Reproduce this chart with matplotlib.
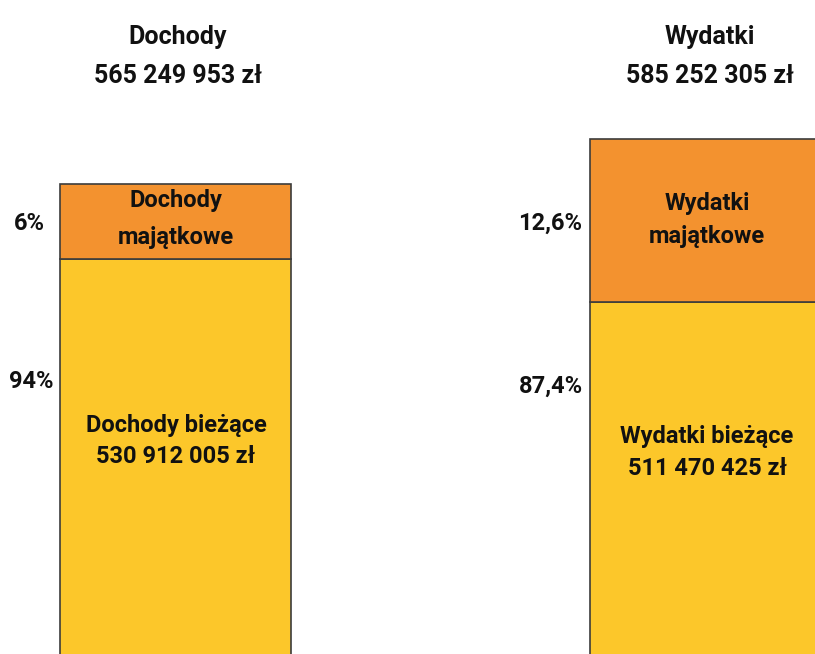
import matplotlib.pyplot as plt

# dane (zł)
groups = ["Dochody", "Wydatki"]
total_lbl = ["565 249 953 zł", "585 252 305 zł"]
biezace = [530912005, 511470425]
majatkowe = [34337948, 73781880]
biezace_lbl = ["530 912 005 zł", "511 470 425 zł"]
maj_lbl = ["Dochody\nmajątkowe", "Wydatki\nmajątkowe"]
bie_name = ["Dochody bieżące", "Wydatki bieżące"]
maj_pct = ["6%", "12,6%"]
bie_pct = ["94%", "87,4%"]

c_maj = "#F3922F"
c_bie = "#FCC72A"
edge = "#3c3c3c"

W, H = 815, 654
FONT = ["Roboto", "DejaVu Sans"]

fig = plt.figure(figsize=(W / 100, H / 100), dpi=100)
fig.patch.set_facecolor("white")
ax = fig.add_axes([0, 0, 1, 1])

x = [0, 1]
width = 0.435
bie_m = [v / 1e6 for v in biezace]
maj_m = [v / 1e6 for v in majatkowe]

ax.bar(x, bie_m, width=width, color=c_bie, edgecolor=edge, linewidth=1.2)
ax.bar(x, maj_m, width=width, bottom=bie_m, color=c_maj, edgecolor=edge, linewidth=1.2)

# chart is cropped: only top part of the bars visible
ax.set_xlim(-0.3305, 1.2065)
ax.set_ylim(352.4, 648.3)
ax.axis("off")


def px(xp, yp):
    return xp / W, 1 - yp / H


def line(xp, yp, s, size, ha="center"):
    fig.text(*px(xp, yp), s, ha=ha, va="baseline", fontsize=size,
             fontweight="bold", family=FONT, color="#111111")


# titles
tx = [178, 710]
for i in range(2):
    line(tx[i], 44, groups[i], 18)
    line(tx[i], 83, total_lbl[i], 18)

# labels inside bars
cx = [176, 707]
maj_base = [(207, 244), (210, 243)]
bie_base = [(432, 463), (443, 475)]
for i in range(2):
    l1, l2 = maj_lbl[i].split("\n")
    line(cx[i], maj_base[i][0], l1, 17)
    line(cx[i], maj_base[i][1], l2, 17)
    line(cx[i], bie_base[i][0], bie_name[i], 17)
    line(cx[i], bie_base[i][1], biezace_lbl[i], 17)

# percentages left of bars
pct_right = [(45, 53), (582, 583)]
pct_base = [(230, 388), (230, 393)]
for i in range(2):
    for j, s in enumerate([maj_pct[i], bie_pct[i]]):
        line(pct_right[i][j], pct_base[i][j], s, 17, ha="right")

fig.savefig("out.png", dpi=100, facecolor="white")
